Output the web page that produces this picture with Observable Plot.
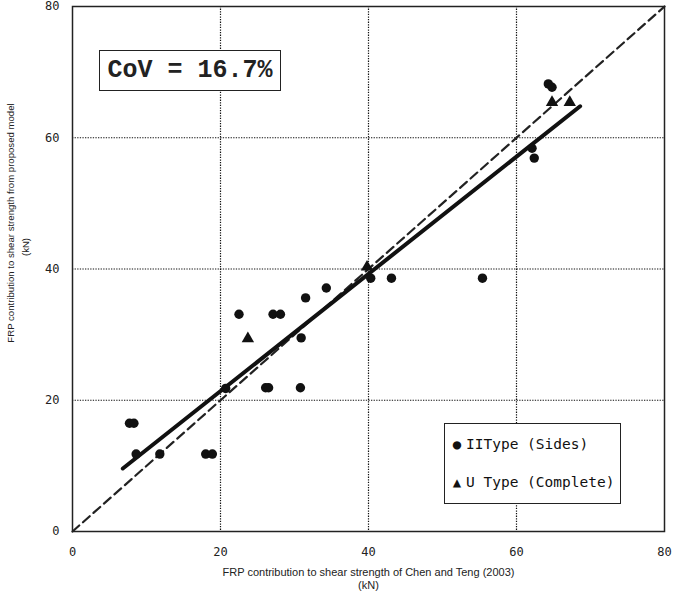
<!DOCTYPE html>
<html>
<head>
<meta charset="utf-8">
<script src="https://cdn.jsdelivr.net/npm/d3@7"></script>
<script src="https://cdn.jsdelivr.net/npm/@observablehq/plot@0.6"></script>
<style>
  body { margin: 0; background: #fff; }
  #wrap { position: relative; width: 675px; height: 593px; }
  .box { position: absolute; background: #fff; border: 1.5px solid #222; box-sizing: border-box; }
  #cov { left: 99px; top: 50px; width: 182px; height: 41px; font: bold 25px "Liberation Mono", monospace; color: #222; display: flex; align-items: center; justify-content: center; }
  #legend { left: 444px; top: 423px; width: 177px; height: 81px; border-width: 1px; font: 14.5px "DejaVu Sans Mono", monospace; color: #111; }
  #legend .row { position: absolute; left: 6px; white-space: pre; display: flex; align-items: center; }
  #legend .sym { width: 12px; font-size: 14px; margin-right: 3px; text-align: center; }
</style>
</head>
<body>
<div id="wrap"></div>
<script>
// Data (kN)
const sidesX = [7.7, 8.3, 8.6, 11.8, 18.0, 18.9, 20.7, 22.5, 26.1, 26.5, 27.1, 28.1, 30.8, 30.9, 31.5, 34.3, 40.3, 43.1, 55.4, 62.1, 62.4, 64.3, 64.8];
const sidesY = [16.5, 16.5, 11.8, 11.8, 11.8, 11.8, 21.8, 33.1, 21.9, 21.9, 33.1, 33.1, 21.9, 29.5, 35.6, 37.1, 38.6, 38.6, 38.6, 58.4, 56.9, 68.2, 67.7];
const uTypeX = [23.7, 39.8, 64.8, 67.2];
const uTypeY = [29.4, 40.3, 65.4, 65.4];
const fitX = [6.8, 68.6];
const fitY = [9.6, 64.8];
const equalX = [0, 80];
const equalY = [0, 80];
const ticks = [0, 20, 40, 60, 80];
const gridTicks = [20, 40, 60];
const xTitle = "FRP contribution to shear strength of Chen and Teng (2003)";
const yTitle = "FRP contribution to shear strength from proposed model";
const unitLabel = "(kN)";
const covLabel = "CoV = 16.7%";
const legendLabels = ["IIType (Sides)", "U Type (Complete)"];

const sides = sidesX.map((x, i) => ({x, y: sidesY[i]}));
const uType = uTypeX.map((x, i) => ({x, y: uTypeY[i]}));
const fit = fitX.map((x, i) => ({x, y: fitY[i]}));
const equal = equalX.map((x, i) => ({x, y: equalY[i]}));

const tickFont = {fontFamily: "DejaVu Sans Mono, monospace", fontSize: 12};

const chart = Plot.plot({
  width: 675,
  height: 593,
  marginLeft: 72,
  marginRight: 11,
  marginTop: 6,
  marginBottom: 62,
  style: {background: "#fff", color: "#111", fontFamily: "Liberation Sans, Arial, sans-serif"},
  x: {domain: [0, 80]},
  y: {domain: [0, 80]},
  marks: [
    Plot.gridX(gridTicks, {stroke: "#111", strokeOpacity: 1, strokeWidth: 1.2, strokeDasharray: "1.3,1.3"}),
    Plot.gridY(gridTicks, {stroke: "#111", strokeOpacity: 1, strokeWidth: 1.2, strokeDasharray: "1.3,1.3"}),
    Plot.axisX(ticks, {tickSize: 0, tickPadding: 16, label: null, ...tickFont, fill: "#222"}),
    Plot.axisY(ticks, {tickSize: 0, tickPadding: 13, label: null, ...tickFont, fill: "#222"}),
    Plot.frame({stroke: "#222", strokeWidth: 1.5}),
    Plot.line(equal, {x: "x", y: "y", stroke: "#222", strokeWidth: 2.2, strokeDasharray: "9,5"}),
    Plot.line(fit, {x: "x", y: "y", stroke: "#111", strokeWidth: 4}),
    Plot.dot(sides, {x: "x", y: "y", r: 4.7, fill: "#111", stroke: "none"}),
    Plot.dot(uType, {x: "x", y: "y", symbol: "triangle", r: 4.6, fill: "#111", stroke: "none"}),
    Plot.text([xTitle], {frameAnchor: "bottom", dy: 44, fontSize: 11, fill: "#222"}),
    Plot.text([unitLabel], {frameAnchor: "bottom", dy: 57, fontSize: 11, fill: "#222"}),
    Plot.text([yTitle], {frameAnchor: "left", textAnchor: "middle", rotate: -90, dx: -62, dy: -46, fontSize: 9.6, fill: "#222"}),
    Plot.text([unitLabel], {frameAnchor: "left", textAnchor: "middle", rotate: -90, dx: -47, dy: -22, fontSize: 9.6, fill: "#222"})
  ]
});

const wrap = document.getElementById("wrap");
wrap.appendChild(chart);

const cov = document.createElement("div");
cov.id = "cov";
cov.className = "box";
cov.textContent = covLabel;
wrap.appendChild(cov);

const legend = document.createElement("div");
legend.id = "legend";
legend.className = "box";
const syms = ["\u25CF", "\u25B2"];
legendLabels.forEach((lab, i) => {
  const row = document.createElement("div");
  row.className = "row";
  row.style.top = (i === 0 ? 12 : 50) + "px";
  const s = document.createElement("span");
  s.className = "sym";
  s.textContent = syms[i];
  const t = document.createElement("span");
  t.textContent = lab;
  row.appendChild(s);
  row.appendChild(t);
  legend.appendChild(row);
});
wrap.appendChild(legend);
</script>
</body>
</html>
